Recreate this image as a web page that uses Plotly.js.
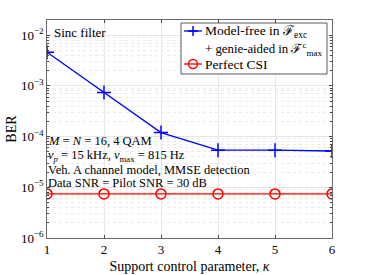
<!DOCTYPE html>
<html><head><meta charset="utf-8">
<script src="https://cdn.plot.ly/plotly-3.0.1.min.js"></script>
<style>html,body{margin:0;padding:0;background:#fff}#c{width:367px;height:275px}</style>
</head><body><div id="c"></div>
<script>
const kappa = [1, 2, 3, 4, 5, 6];
const berModelFree = [4.6e-3, 7.4e-4, 1.2e-4, 5.4e-5, 5.4e-5, 5.2e-5];
const berPerfect = [7.4e-6, 7.4e-6, 7.4e-6, 7.4e-6, 7.4e-6, 7.4e-6];
const yTickVals = [1e-6, 1e-5, 1e-4, 1e-3, 1e-2];
const yTickText = ['10<sup>\u22126</sup>', '10<sup>\u22125</sup>', '10<sup>\u22124</sup>', '10<sup>\u22123</sup>', '10<sup>\u22122</sup>'];
const seriesNames = ['Model-free in \u2131<sub>exc</sub>', '+ genie-aided in \u2131<sup>c</sup><sub>max</sub>', 'Perfect CSI'];
const infoLines = [
  '<i>M</i> = <i>N</i> = 16, 4 QAM',
  '<i>\u03bd</i><sub><i>p</i></sub> = 15 kHz, <i>\u03bd</i><sub>max</sub> = 815 Hz',
  'Veh. A channel model, MMSE detection',
  'Data SNR = Pilot SNR = 30 dB'
];
const font = 'Liberation Serif, DejaVu Serif, serif';
const blue = '#0000ff', red = '#ff0000';

const traces = [
  {x: kappa, y: berModelFree, mode: 'lines+markers', name: seriesNames[0] + ' ' + seriesNames[1],
   line: {color: blue, width: 1.3}, marker: {symbol: 'cross-thin-open', size: 10, line: {color: blue, width: 1.5}}},
  {x: kappa, y: berPerfect, mode: 'lines+markers', name: seriesNames[2],
   line: {color: red, width: 1.3}, marker: {symbol: 'circle-open', size: 10, color: red, line: {color: red, width: 1.5}}}
];

// plot-area pixel helpers for legend placement
const L = 47, R = 35, T = 20, B = 37, W = 367, H = 275;
const pw = W - L - R, ph = H - T - B;
const px = v => (v - L) / pw;
const py = v => (H - B - v) / ph;

const annotations = [
  {xref: 'paper', yref: 'paper', x: px(52), y: py(33), xanchor: 'left', yanchor: 'middle', text: 'Sinc filter', showarrow: false, font: {family: font, size: 13, color: '#000'}}
];
[141, 155.5, 169.5, 183].forEach((yy, i) => {
  annotations.push({xref: 'paper', yref: 'paper', x: px(47), y: py(yy), xanchor: 'left', yanchor: 'middle', text: infoLines[i], showarrow: false, borderpad: 0, font: {family: font, size: 12.5, color: '#000'}});
});
const legendSizes = [13.5, 12.8, 13.5];
[31, 48.5, 64].forEach((yy, i) => {
  annotations.push({xref: 'paper', yref: 'paper', x: px(204), y: py(yy), xanchor: 'left', yanchor: 'middle', text: seriesNames[i], showarrow: false, borderpad: 0, font: {family: font, size: legendSizes[i], color: '#000'}});
});

const shapes = [
  {type: 'rect', xref: 'paper', yref: 'paper', x0: px(181), x1: px(327), y0: py(74), y1: py(23), fillcolor: '#fff', line: {color: '#333', width: 0.8}, layer: 'above'},
  {type: 'line', xref: 'paper', yref: 'paper', x0: px(184), x1: px(202), y0: py(31), y1: py(31), line: {color: blue, width: 1.3}, layer: 'above'},
  {type: 'line', xref: 'paper', yref: 'paper', x0: px(193), x1: px(193), y0: py(26), y1: py(36), line: {color: blue, width: 1.5}, layer: 'above'},
  {type: 'line', xref: 'paper', yref: 'paper', x0: px(188), x1: px(198), y0: py(31), y1: py(31), line: {color: blue, width: 1.5}, layer: 'above'},
  {type: 'line', xref: 'paper', yref: 'paper', x0: px(184), x1: px(202), y0: py(64), y1: py(64), line: {color: red, width: 1.3}, layer: 'above'},
  {type: 'circle', xref: 'paper', yref: 'paper', x0: px(188.5), x1: px(197.5), y0: py(68.5), y1: py(59.5), fillcolor: 'rgba(0,0,0,0)', line: {color: red, width: 1.5}, layer: 'above'}
];

const layout = {
  width: W, height: H,
  margin: {l: L, r: R, t: T, b: B},
  paper_bgcolor: '#fff', plot_bgcolor: '#fff',
  font: {family: font, size: 13, color: '#000'},
  showlegend: false,
  xaxis: {range: [1, 6], tickvals: kappa, ticks: 'inside', ticklen: 3, showline: true, mirror: 'ticks', linecolor: '#444', linewidth: 0.8,
          showgrid: true, gridcolor: '#e2e2e2', gridwidth: 0.8, zeroline: false, tickfont: {size: 13},
          title: {text: 'Support control parameter, <i>\u03ba</i>', font: {size: 14}, standoff: 4}},
  yaxis: {type: 'log', range: [-6, -1.7], tickvals: yTickVals, ticktext: yTickText, ticks: 'inside', ticklen: 3,
          showline: true, mirror: 'ticks', linecolor: '#444', linewidth: 0.8, showgrid: true, gridcolor: '#e2e2e2', gridwidth: 0.8,
          zeroline: false, tickfont: {size: 13},
          minor: {dtick: 'D1', showgrid: true, gridcolor: '#e6e6e6', griddash: 'dot', gridwidth: 0.8, ticks: 'inside', ticklen: 2},
          title: {text: 'BER', font: {size: 14}, standoff: 0}},
  annotations: annotations,
  shapes: shapes
};
Plotly.newPlot('c', traces, layout, {staticPlot: true, displayModeBar: false});
</script></body></html>
